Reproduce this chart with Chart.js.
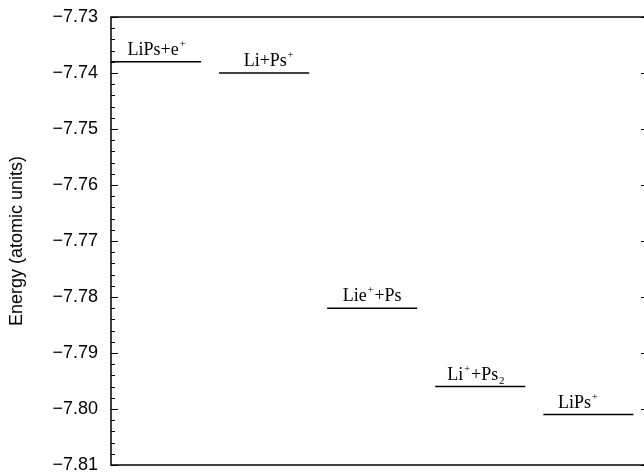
<!DOCTYPE html>
<html>
<head>
<meta charset="utf-8">
<script src="https://cdn.jsdelivr.net/npm/chart.js@4.4.1/dist/chart.umd.min.js"></script>
<style>
  html, body { margin: 0; padding: 0; background: #fff; overflow: hidden; }
  #wrap { width: 644px; height: 474px; overflow: hidden; }
</style>
</head>
<body>
<div id="wrap"><canvas id="levels" width="660" height="474"></canvas></div>
<script>
// ---- Data ----
// "^x" = superscript char, "_x" = subscript char
const levelNames = ["LiPs+e^+", "Li+Ps^+", "Lie^++Ps", "Li^++Ps_2", "LiPs^+"];
const levelEnergies = [-7.738, -7.740, -7.782, -7.796, -7.801];
const levelStart = [0, 1.2, 2.4, 3.6, 4.8];
const levelEnd = [1.0, 2.2, 3.4, 4.6, 5.8];
const yMin = -7.81;
const yMax = -7.73;
const yStep = 0.01;
const yTitle = "Energy (atomic units)";

// small horizontal nudges of the names (px), as in the original figure
const nameNudge = [1, 5, 0, -4, -10];

const datasets = levelNames.map((name, i) => ({
  label: name,
  data: [
    { x: levelStart[i], y: levelEnergies[i] },
    { x: levelEnd[i], y: levelEnergies[i] },
  ],
  showLine: true,
  pointRadius: 0,
  borderColor: "#000",
  borderWidth: 1.5,
}));

function splitLabel(str) {
  const parts = [];
  let i = 0;
  while (i < str.length) {
    const c = str[i];
    if ((c === "^" || c === "_") && i + 1 < str.length) {
      parts.push({ t: str[i + 1], kind: c === "^" ? "sup" : "sub" });
      i += 2;
    } else {
      const last = parts[parts.length - 1];
      if (last && last.kind === "norm") last.t += c;
      else parts.push({ t: c, kind: "norm" });
      i++;
    }
  }
  return parts;
}

// frame + inward ticks
const framePlugin = {
  id: "frame",
  afterDraw(chart) {
    const { ctx, chartArea: a, scales } = chart;
    const y = scales.y;
    ctx.save();
    ctx.strokeStyle = "#000";
    ctx.lineWidth = 1.5;
    ctx.strokeRect(a.left, a.top, a.right - a.left, a.bottom - a.top);
    ctx.lineWidth = 1.2;
    ctx.beginPath();
    const n = Math.round((yMax - yMin) / 0.002);
    for (let k = 0; k <= n; k++) {
      const v = yMin + k * 0.002;
      const py = Math.round(y.getPixelForValue(v)) + 0.5;
      const major = k % 5 === 0;
      ctx.moveTo(a.left, py);
      ctx.lineTo(a.left + (major ? 7 : 4), py);
      if (major) {
        ctx.moveTo(a.right, py);
        ctx.lineTo(a.right - 5, py);
      }
    }
    ctx.stroke();
    ctx.restore();
  },
};

// level names above each line
const namePlugin = {
  id: "names",
  afterDatasetsDraw(chart) {
    const { ctx, scales } = chart;
    ctx.save();
    ctx.fillStyle = "#000";
    ctx.textBaseline = "alphabetic";
    ctx.textAlign = "left";
    const big = "18px 'Liberation Serif', 'Times New Roman', serif";
    const small = "11px 'Liberation Serif', 'Times New Roman', serif";
    levelNames.forEach((name, i) => {
      const parts = splitLabel(name);
      let w = 0;
      parts.forEach((p) => {
        ctx.font = p.kind === "norm" ? big : small;
        p.w = ctx.measureText(p.t).width + (p.kind === "norm" ? 0 : 1.5);
        w += p.w;
      });
      const cx = scales.x.getPixelForValue((levelStart[i] + levelEnd[i]) / 2) + nameNudge[i];
      const by = scales.y.getPixelForValue(levelEnergies[i]) - 7;
      let x = cx - w / 2;
      parts.forEach((p) => {
        ctx.font = p.kind === "norm" ? big : small;
        let dy = 0;
        if (p.kind === "sup") dy = -8;
        if (p.kind === "sub") dy = 4;
        ctx.fillText(p.t, x + (p.kind === "norm" ? 0 : 0.75), by + dy);
        x += p.w;
      });
    });
    ctx.restore();
  },
};

new Chart(document.getElementById("levels"), {
  type: "scatter",
  data: { datasets },
  options: {
    responsive: false,
    animation: false,
    devicePixelRatio: 1,
    layout: { padding: { top: 17, right: 14, bottom: 9, left: 0 } },
    plugins: { legend: { display: false }, tooltip: { enabled: false } },
    scales: {
      x: { type: "linear", min: 0, max: 5.94, display: false },
      y: {
        type: "linear",
        min: yMin,
        max: yMax,
        afterFit: (s) => { s.width = 111; },
        border: { display: false },
        grid: { display: false, drawTicks: true, tickLength: 13 },
        ticks: {
          stepSize: yStep,
          padding: 0,
          color: "#000",
          font: { family: "'Liberation Sans', Arial, sans-serif", size: 18, lineHeight: 1 },
          callback: (v) => "\u2212" + Math.abs(v).toFixed(2),
        },
        title: {
          display: true,
          text: yTitle,
          color: "#000",
          padding: { top: 6, bottom: 0 },
          font: { family: "'Liberation Sans', Arial, sans-serif", size: 18 },
        },
      },
    },
  },
  plugins: [framePlugin, namePlugin],
});
</script>
</body>
</html>
